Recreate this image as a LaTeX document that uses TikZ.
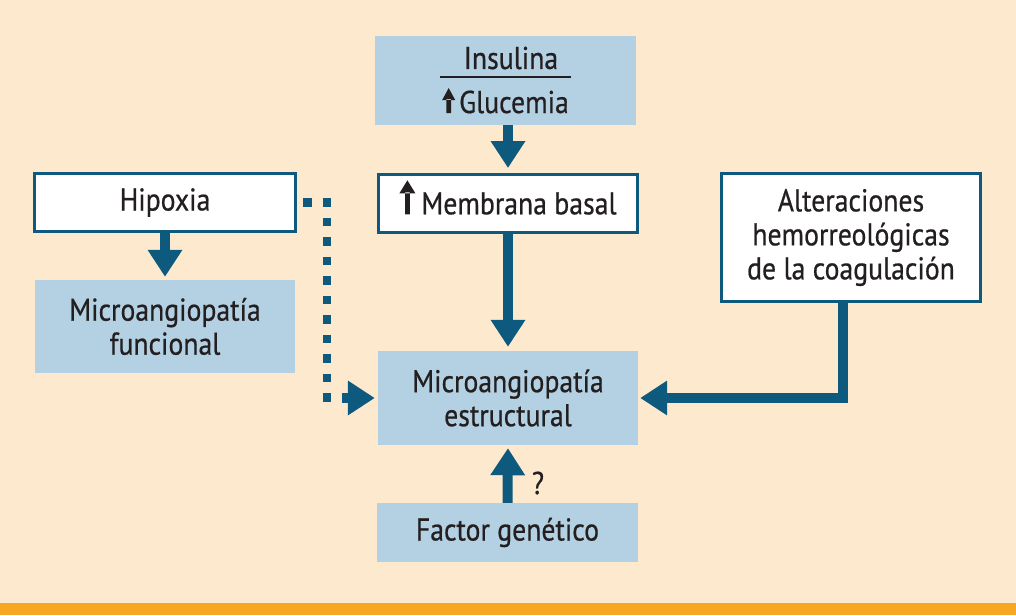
\documentclass[tikz,border=0pt]{standalone}
\usepackage{fontspec}
\setmainfont{PT Sans}[FakeStretch=0.88, FakeBold=0.6]
\usetikzlibrary{arrows.meta,calc}
\definecolor{cream}{HTML}{FDEACE}
\definecolor{lblue}{HTML}{B3D1E3}
\definecolor{dblue}{HTML}{0E5A7E}
\definecolor{orangebar}{HTML}{F7A823}
\definecolor{txt}{HTML}{231F20}
% #1 total height, #2 head width, #3 head height, #4 gap after
\newcommand{\upar}[4]{\smash{\tikz[baseline=0pt,x=1pt,y=1pt]{\fill[txt] (-2.4,0) rectangle (2.4,#1-#3+1) (-#2/2,#1-#3) -- (#2/2,#1-#3) -- (0,#1) -- cycle;}}\hspace{#4pt}}
\tikzset{
  bluebox/.style={fill=lblue, draw=none, align=center, inner sep=0pt, text=txt},
  whitebox/.style={fill=white, draw=dblue, line width=3pt, align=center, inner sep=0pt, text=txt},
  flow/.style={draw=dblue, line width=10pt, -{Triangle[width=33pt,length=27pt]}},
  dotflow/.style={draw=dblue, line width=8.5pt, dash pattern=on 8.5pt off 11pt},
}
\begin{document}
\begin{tikzpicture}[x=1pt,y=-1pt, font=\fontsize{31.5}{34}\selectfont]
\useasboundingbox (0,0) rectangle (1016,615);
\fill[cream] (0,0) rectangle (1016,615);
\fill[orangebar] (0,603) rectangle (1016,615);

\node[bluebox, minimum width=261pt, minimum height=89pt] (ins) at (505.5,80.5) {};
\node[text=txt] (instxt) at (511,58) {Insulina};
\node[text=txt] (glutxt) at (505.5,102) {\upar{25}{13}{12}{4}Glucemia};
\draw[txt, line width=1.2pt] (440,77) -- (571,77);

\node[whitebox, minimum width=259pt, minimum height=58pt] (memb) at (508,203.5) {\upar{34}{16}{13}{6}Membrana basal};
\node[whitebox, minimum width=261pt, minimum height=58pt] (hip) at (165,202.5) {Hipoxia};
\node[bluebox, minimum width=260pt, minimum height=93pt] (fun) at (165,326.5) {Microangiopatía\\funcional};
\node[bluebox, minimum width=260pt, minimum height=94pt] (estr) at (508,398) {Microangiopatía\\estructural};
\node[whitebox, minimum width=259pt, minimum height=128pt] (alt) at (851,237.5) {Alteraciones\\hemorreológicas\\de la coagulación};
\node[bluebox, minimum width=261pt, minimum height=59pt] (fac) at (507.5,532.5) {Factor genético};
\node[text=txt] (q) at (538,483) {?};

\draw[flow, shorten >=5pt] (ins.south -| memb.north) -- (memb.north);
\draw[flow, shorten >=4pt] (memb.south) -- (estr.north);
\draw[flow, shorten >=3pt] (hip.south) -- (fun.north);
\draw[flow, shorten >=2pt] ($(alt.south)+(-8,0)$) |- (estr.east);
\draw[flow, shorten >=3pt] (fac.north) -- (estr.south);

\coordinate (d0) at ($(hip.east)+(6,0)$);
\coordinate (d1) at ($(hip.east)+(30,0)$);
\coordinate (d2) at (d1 |- estr.west);
\coordinate (d3) at ($(estr.west)+(-30,0)$);
\coordinate (d4) at ($(estr.west)+(-36,0)$);
\draw[dotflow] (d0) -- (d1) -- (d2) -- (d3);
\draw[flow, shorten >=3pt] (d4) -- (estr.west);
\end{tikzpicture}
\end{document}
